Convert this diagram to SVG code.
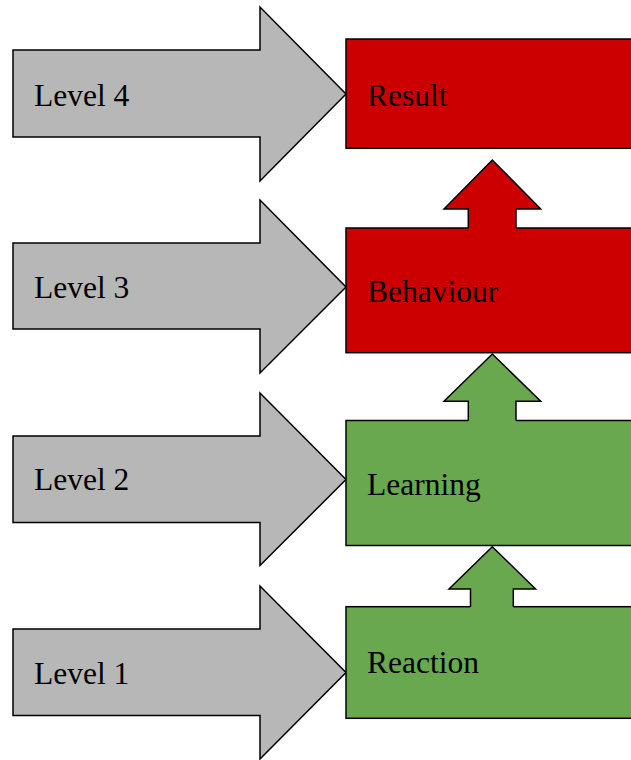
<svg xmlns="http://www.w3.org/2000/svg" width="631" height="760" viewBox="0 0 631 760">
<style>
.lvl{fill:#b7b7b7;stroke:#000;stroke-width:1.5;stroke-linejoin:miter}
.red{fill:#cc0000;stroke:#000;stroke-width:1.5}
.green{fill:#6aa84f;stroke:#000;stroke-width:1.5}
.rf{fill:#cc0000;stroke:none}
.gf{fill:#6aa84f;stroke:none}
.ol{fill:none;stroke:#000;stroke-width:1.5}
.t{font-family:"Liberation Serif","Times New Roman",serif;font-size:31.5px;fill:#000}
</style>
<rect width="631" height="760" fill="#fff"/>
<g id="level4">
<polygon class="lvl" points="13,50 260,50 260,7 346,94 260,181 260,137 13,137"/>
<text class="t" x="34" y="106">Level 4</text>
</g>
<g id="level3">
<polygon class="lvl" points="13,243 260,243 260,200 346,287 260,373 260,329 13,329"/>
<text class="t" x="34" y="298">Level 3</text>
</g>
<g id="level2">
<polygon class="lvl" points="13,436 260,436 260,393 346,479.5 260,565.5 260,522.5 13,522.5"/>
<text class="t" x="34" y="490">Level 2</text>
</g>
<g id="level1">
<polygon class="lvl" points="13,629 260,629 260,586 346,672.5 260,759 260,715.5 13,715.5"/>
<text class="t" x="34" y="684">Level 1</text>
</g>
<g id="result">
<rect class="red" x="346" y="39" width="300" height="109.3"/>
<text class="t" x="367" y="106">Result</text>
</g>
<g id="behaviour">
<rect class="red" x="346" y="228" width="300" height="124.7"/>
<text class="t" x="367" y="302">Behaviour</text>
</g>
<g id="learning">
<rect class="green" x="346" y="420.5" width="300" height="125"/>
<text class="t" x="367" y="495">Learning</text>
</g>
<g id="reaction">
<rect class="green" x="346" y="606.7" width="300" height="111.6"/>
<text class="t" x="367" y="673">Reaction</text>
</g>
<g id="connectors">
<path class="rf" d="M468.3,229.5 L468.3,209 L444,209 L492.3,160 L540.7,209 L516,209 L516,229.5 Z"/>
<path class="ol" d="M468.3,228 L468.3,209 L444,209 L492.3,160 L540.7,209 L516,209 L516,228"/>
<path class="gf" d="M468.3,422 L468.3,401.3 L444,401.3 L492.3,354 L540.7,401.3 L516,401.3 L516,422 Z"/>
<path class="ol" d="M468.3,420.5 L468.3,401.3 L444,401.3 L492.3,354 L540.7,401.3 L516,401.3 L516,420.5"/>
<path class="gf" d="M470.5,608.2 L470.5,589 L449,589 L492.3,546.7 L535.5,589 L513.3,589 L513.3,608.2 Z"/>
<path class="ol" d="M470.5,606.7 L470.5,589 L449,589 L492.3,546.7 L535.5,589 L513.3,589 L513.3,606.7"/>
</g>
</svg>
